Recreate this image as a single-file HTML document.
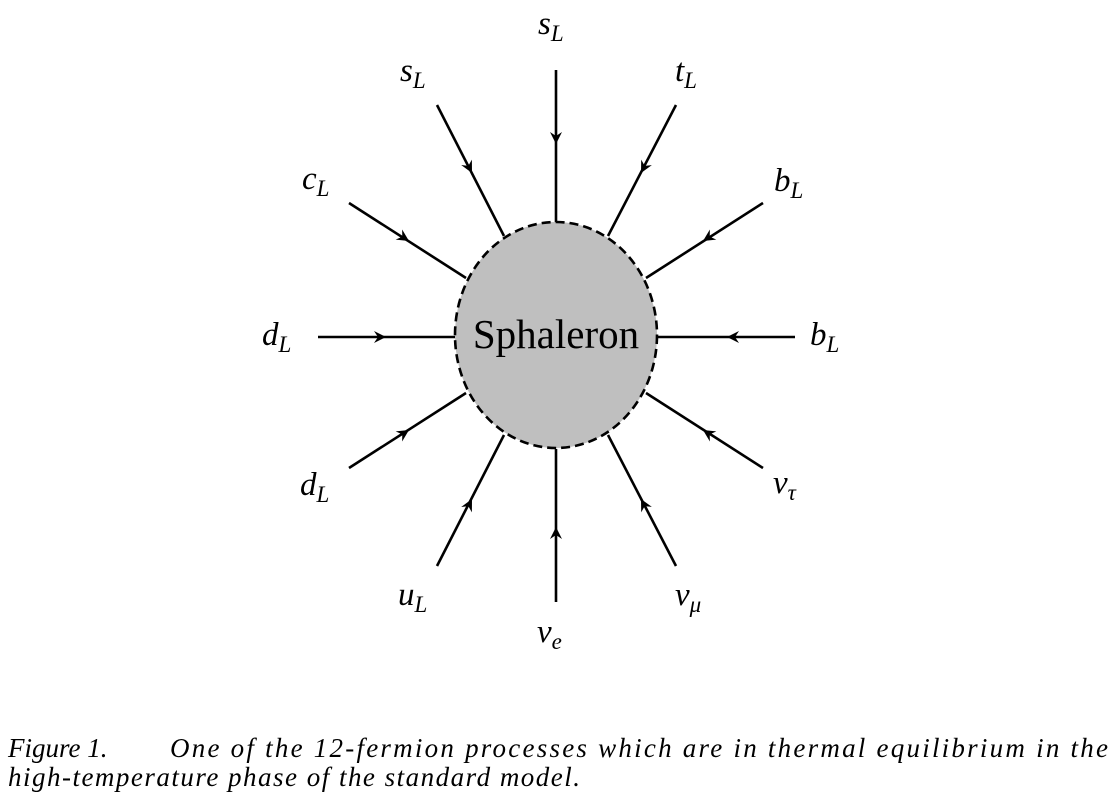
<!DOCTYPE html>
<html><head><meta charset="utf-8"><style>
html,body{margin:0;padding:0;background:#fff;}
svg{display:block;}
text{font-family:"Liberation Serif",serif;fill:#000;}
.l{font-style:italic;font-size:33px;}
.s{font-size:23px;}
.c{font-family:"Liberation Serif",serif;font-style:italic;font-size:27px;}
</style></head><body>
<svg width="1113" height="802" viewBox="0 0 1113 802">
<defs>
<path id="ah" d="M-12,-6 L0,0 L-12,6 L-8,0Z" fill="#000"/>
</defs>
<ellipse cx="556" cy="335" rx="101" ry="113" fill="#bfbfbf" stroke="#000" stroke-width="2.6" stroke-dasharray="9,5"/>
<g stroke="#000" stroke-width="2.6">
<line x1="556" y1="70" x2="556" y2="222"/>
<line x1="437" y1="105" x2="504" y2="236"/>
<line x1="676" y1="105" x2="608" y2="236"/>
<line x1="349" y1="203" x2="466" y2="278"/>
<line x1="763" y1="203" x2="646" y2="278"/>
<line x1="318" y1="337" x2="455" y2="337"/>
<line x1="795" y1="337" x2="657" y2="337"/>
<line x1="349" y1="468" x2="466" y2="393"/>
<line x1="763" y1="468" x2="646" y2="393"/>
<line x1="437" y1="566" x2="504" y2="435"/>
<line x1="676" y1="566" x2="608" y2="435"/>
<line x1="556" y1="602" x2="556" y2="449"/>
</g>
<use href="#ah" transform="translate(556,144) rotate(90)"/>
<use href="#ah" transform="translate(472,173) rotate(62.9)"/>
<use href="#ah" transform="translate(641,173) rotate(117.4)"/>
<use href="#ah" transform="translate(409,241) rotate(32.7)"/>
<use href="#ah" transform="translate(703,241) rotate(147.3)"/>
<use href="#ah" transform="translate(386,337) rotate(0)"/>
<use href="#ah" transform="translate(727,337) rotate(180)"/>
<use href="#ah" transform="translate(409,430) rotate(-32.7)"/>
<use href="#ah" transform="translate(703,430) rotate(-147.3)"/>
<use href="#ah" transform="translate(472,499) rotate(-62.9)"/>
<use href="#ah" transform="translate(641,499) rotate(-117.4)"/>
<use href="#ah" transform="translate(556,527) rotate(-90)"/>
<text x="556" y="348" font-size="41" text-anchor="middle">Sphaleron</text>
<text class="l" x="538" y="34">s<tspan class="s" dy="7">L</tspan></text>
<text class="l" x="400" y="81">s<tspan class="s" dy="7">L</tspan></text>
<text class="l" x="675" y="81">t<tspan class="s" dy="7">L</tspan></text>
<text class="l" x="302" y="189">c<tspan class="s" dy="7">L</tspan></text>
<text class="l" x="774" y="191">b<tspan class="s" dy="7">L</tspan></text>
<text class="l" x="262" y="345">d<tspan class="s" dy="7">L</tspan></text>
<text class="l" x="810" y="345">b<tspan class="s" dy="7">L</tspan></text>
<text class="l" x="300" y="495">d<tspan class="s" dy="7">L</tspan></text>
<text class="l" x="773" y="493">ν<tspan class="s" dy="7">τ</tspan></text>
<text class="l" x="398" y="605">u<tspan class="s" dy="7">L</tspan></text>
<text class="l" x="675" y="605">ν<tspan class="s" dy="7">μ</tspan></text>
<text class="l" x="537" y="642">ν<tspan class="s" dy="7">e</tspan></text>
<text class="c" x="8" y="757">Figure 1.</text>
<text class="c" x="170" y="757" textLength="938" lengthAdjust="spacing">One of the 12-fermion processes which are in thermal equilibrium in the</text>
<text class="c" x="8" y="786" textLength="572" lengthAdjust="spacing">high-temperature phase of the standard model.</text>
</svg>
</body></html>
